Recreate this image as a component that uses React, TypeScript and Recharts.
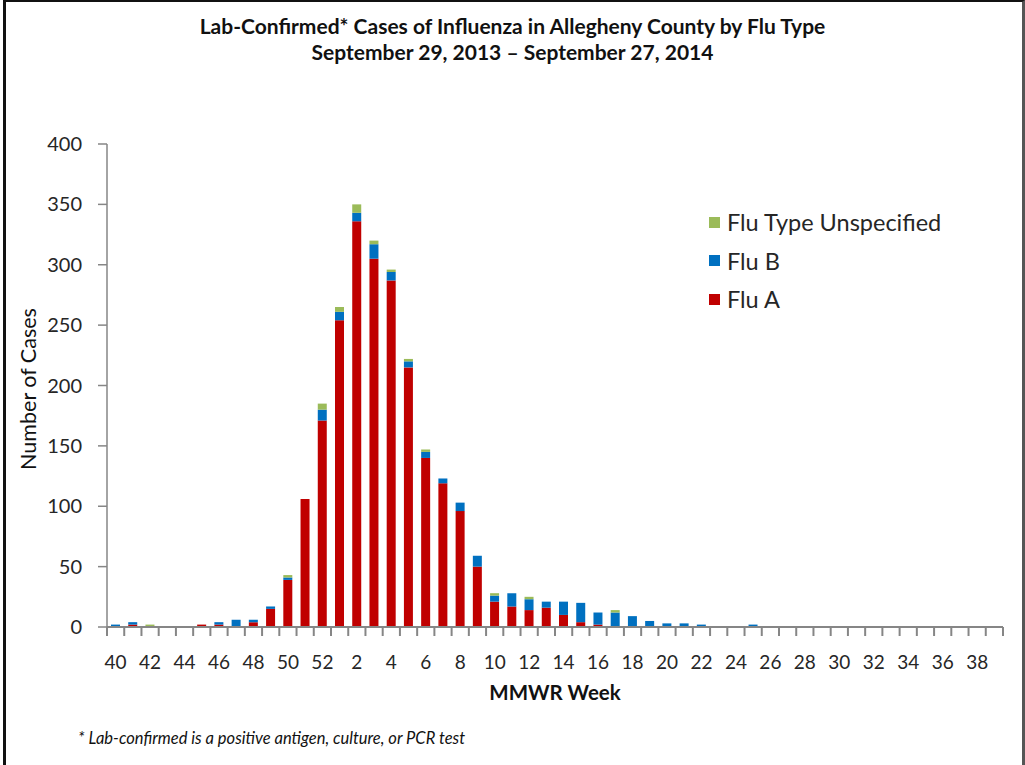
import { Bar, BarChart, XAxis, YAxis } from 'recharts';

const weeks = [
  40, 41, 42, 43, 44, 45, 46, 47, 48, 49, 50, 51, 52, 1, 2, 3, 4, 5, 6, 7, 8, 9, 10, 11, 12, 13,
  14, 15, 16, 17, 18, 19, 20, 21, 22, 23, 24, 25, 26, 27, 28, 29, 30, 31, 32, 33, 34, 35, 36, 37, 38, 39,
];

const fluA = [
  0, 2, 0, 0, 0, 2, 2, 0, 4, 15, 39, 106, 171, 254, 336, 305, 287, 215, 140, 119, 96, 50, 21, 17, 14, 16,
  10, 4, 2, 0, 0, 0, 0, 0, 0, 0, 0, 0, 0, 0, 0, 0, 0, 0, 0, 0, 0, 0, 0, 0, 0, 0,
];

const fluB = [
  2, 2, 0, 0, 0, 0, 2, 6, 2, 2, 2, 0, 9, 7, 7, 12, 7, 5, 5, 4, 7, 9, 5, 11, 9, 5,
  11, 16, 10, 12, 9, 5, 3, 3, 2, 0, 0, 2, 0, 0, 0, 0, 0, 0, 0, 0, 0, 0, 0, 0, 0, 0,
];

const fluUnspecified = [
  0, 0, 2, 0, 0, 0, 0, 0, 0, 0, 2, 0, 5, 4, 7, 3, 2, 2, 2, 0, 0, 0, 2, 0, 2, 0,
  0, 0, 0, 2, 0, 0, 0, 0, 0, 0, 0, 0, 0, 0, 0, 0, 0, 0, 0, 0, 0, 0, 0, 0, 0, 0,
];

const yTicks = [0, 50, 100, 150, 200, 250, 300, 350, 400];

const RED = '#C00000';
const BLUE = '#0070C0';
const GREEN = '#9BBB59';
const AXIS = '#868686';
const FONT = 'Lato, "Open Sans", sans-serif';

const CHART_W = 1025;
const CHART_H = 765;
const PLOT_LEFT = 107;
const PLOT_RIGHT = 1003;
const BAND = (PLOT_RIGHT - PLOT_LEFT) / weeks.length;

const data = weeks.map((w, i) => ({
  week: String(w),
  fluA: fluA[i],
  fluB: fluB[i],
  unspecified: fluUnspecified[i],
}));

function WeekTick(props: any) {
  const { x, y, payload, index } = props;
  const half = BAND / 2;
  return (
    <g>
      {index === 0 && <line x1={x - half} y1={y} x2={x - half} y2={y + 9} stroke={AXIS} strokeWidth={2} />}
      <line x1={x + half} y1={y} x2={x + half} y2={y + 9} stroke={AXIS} strokeWidth={2} />
      {index % 2 === 0 && (
        <text x={x} y={y + 42} textAnchor="middle" fontSize={19} fill="#262626" fontFamily={FONT}>
          {payload.value}
        </text>
      )}
    </g>
  );
}

const legendItems = [
  { label: 'Flu Type Unspecified', color: GREEN },
  { label: 'Flu B', color: BLUE },
  { label: 'Flu A', color: RED },
];

export default function App() {
  return (
    <div style={{ position: 'absolute', left: 0, top: 0, width: CHART_W, height: CHART_H, background: '#fff', overflow: 'hidden' }}>
      <div
        style={{
          position: 'absolute',
          left: 3,
          top: 0,
          width: 1016,
          height: 780,
          borderLeft: '3px solid #111',
          borderTop: '2px solid #111',
          borderRight: '3px solid #555',
        }}
      />
      <div
        style={{
          position: 'absolute',
          left: 0,
          width: CHART_W,
          top: 13,
          textAlign: 'center',
          fontFamily: FONT,
          fontWeight: 700,
          fontSize: 21,
          lineHeight: '26px',
          color: '#111',
        }}
      >
        <div>Lab-Confirmed* Cases of Influenza in Allegheny County by Flu Type</div>
        <div>September 29, 2013 – September 27, 2014</div>
      </div>
      <div style={{ position: 'absolute', left: 0, top: 0 }}>
        <BarChart
          width={CHART_W}
          height={CHART_H}
          data={data}
          margin={{ top: 144, right: CHART_W - PLOT_RIGHT, bottom: 108, left: 50 }}
          barSize={9}
        >
          <XAxis
            dataKey="week"
            interval={0}
            tickLine={false}
            tickSize={0}
            tickMargin={0}
            height={30}
            stroke={AXIS}
            strokeWidth={2}
            tick={<WeekTick />}
          />
          <YAxis
            width={57}
            domain={[0, 400]}
            ticks={yTicks}
            interval={0}
            stroke={AXIS}
            strokeWidth={1.5}
            tickSize={9}
            tickMargin={16}
            tick={{ fontSize: 20, fill: '#262626', fontFamily: FONT }}
          />
          <Bar dataKey="fluA" stackId="a" fill={RED} name="Flu A" isAnimationActive={false} />
          <Bar dataKey="fluB" stackId="a" fill={BLUE} name="Flu B" isAnimationActive={false} />
          <Bar dataKey="unspecified" stackId="a" fill={GREEN} name="Flu Type Unspecified" isAnimationActive={false} />
        </BarChart>
      </div>
      <div style={{ position: 'absolute', left: 709, top: 203, fontFamily: FONT }}>
        {legendItems.map((it) => (
          <div key={it.label} style={{ display: 'flex', alignItems: 'center', height: 38.5 }}>
            <span style={{ width: 11, height: 11, background: it.color, marginRight: 7 }} />
            <span style={{ fontSize: 23.5, color: '#262626' }}>{it.label}</span>
          </div>
        ))}
      </div>
      <div
        style={{
          position: 'absolute',
          left: 28,
          top: 389,
          transform: 'translate(-50%, -50%) rotate(-90deg)',
          whiteSpace: 'nowrap',
          fontFamily: FONT,
          fontSize: 21.5,
          color: '#111',
        }}
      >
        Number of Cases
      </div>
      <div
        style={{
          position: 'absolute',
          left: 555,
          top: 692,
          transform: 'translate(-50%, -50%)',
          whiteSpace: 'nowrap',
          fontFamily: FONT,
          fontWeight: 700,
          fontSize: 20.5,
          color: '#111',
        }}
      >
        MMWR Week
      </div>
      <div
        style={{
          position: 'absolute',
          left: 78,
          top: 728,
          whiteSpace: 'nowrap',
          fontFamily: FONT,
          fontStyle: 'italic',
          fontSize: 16.5,
          color: '#111',
        }}
      >
        * Lab-confirmed is a positive antigen, culture, or PCR test
      </div>
    </div>
  );
}
